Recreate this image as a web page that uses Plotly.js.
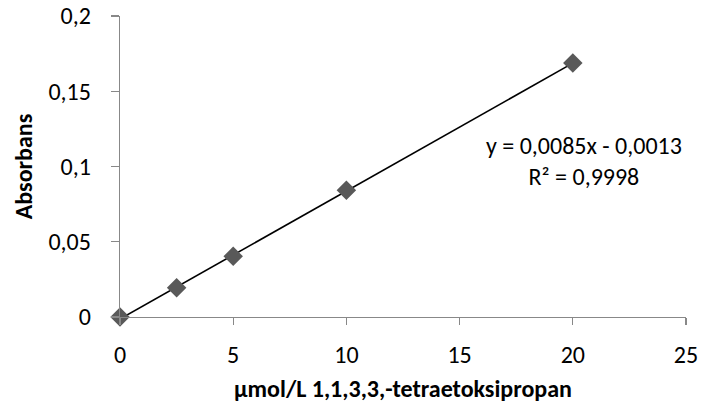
<!DOCTYPE html>
<html><head><meta charset="utf-8">
<script src="https://cdn.plot.ly/plotly-3.0.1.min.js"></script>
<style>html,body{margin:0;padding:0;background:#fff}#chart{width:703px;height:410px}</style>
</head><body><div id="chart"></div>
<script>
const concentration = [0, 2.5, 5, 10, 20];
const absorbance = [0, 0.0195, 0.0403, 0.0843, 0.1688];
const trendX = [0, 20];
const trendY = [-0.0013, 0.1687];
const xTicks = [0, 5, 10, 15, 20, 25];
const yTicks = [0, 0.05, 0.1, 0.15, 0.2];
const yTickText = ['0', '0,05', '0,1', '0,15', '0,2'];
const equationText = 'y = 0,0085x - 0,0013<br>R² = 0,9998';

const font = 'Carlito, Calibri, "Liberation Sans", Arial, sans-serif';
const data = [
  {x: trendX, y: trendY, mode: 'lines', line: {color: '#000', width: 1.6}, hoverinfo: 'skip', cliponaxis: false},
  {x: concentration, y: absorbance, mode: 'markers', marker: {symbol: 'diamond', size: 15, color: '#595959'}, cliponaxis: false}
];
const layout = {
  width: 703, height: 410,
  margin: {l: 120, r: 17, t: 16, b: 93},
  showlegend: false,
  paper_bgcolor: '#fff', plot_bgcolor: '#fff',
  font: {family: font, size: 24, color: '#000'},
  separators: ',.',
  xaxis: {
    range: [0, 25], tickvals: xTicks, showgrid: false, zeroline: false,
    showline: true, linecolor: '#888', linewidth: 1.3,
    ticks: 'outside', ticklen: 7, tickcolor: '#888', tickwidth: 1.3,
    tickfont: {size: 24}, ticklabelstandoff: 9,
    title: {text: '<b>µmol/L 1,1,3,3,-tetraetoksipropan</b>', font: {size: 24}, standoff: 12}
  },
  yaxis: {
    range: [0, 0.2], tickvals: yTicks, ticktext: yTickText, showgrid: false, zeroline: false,
    showline: true, linecolor: '#888', linewidth: 1.3,
    ticks: 'outside', ticklen: 8, tickcolor: '#888', tickwidth: 1.3,
    tickfont: {size: 24}, ticklabelstandoff: 15,
    title: {text: '<b>Absorbans</b>', font: {size: 24}, standoff: 9}
  },
  annotations: [{
    x: 20.5, y: 0.1035, xref: 'x', yref: 'y', text: equationText, showarrow: false,
    font: {size: 24}, align: 'center'
  }]
};
Plotly.newPlot('chart', data, layout, {displayModeBar: false, staticPlot: true});
</script></body></html>
